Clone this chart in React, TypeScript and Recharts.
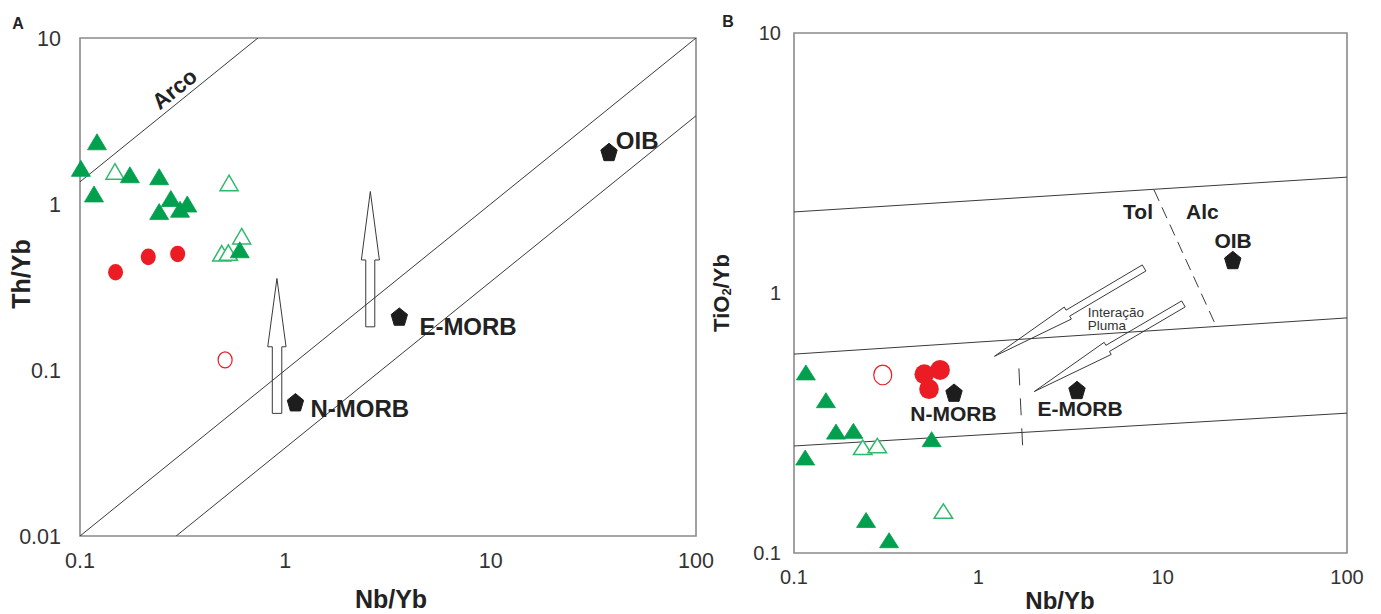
import React from 'react';
import { ScatterChart, Scatter, XAxis, YAxis, ReferenceLine, ReferenceArea } from 'recharts';

const FONT = '"Liberation Sans", Arial, Helvetica, sans-serif';

// ---------- Panel A : Th/Yb vs Nb/Yb ----------
const aXTicks = [0.1, 1, 10, 100];
const aYTicks = [0.01, 0.1, 1, 10];
const aFilledTri = [
  { x: 0.101, y: 1.64 }, { x: 0.121, y: 2.37 }, { x: 0.117, y: 1.15 }, { x: 0.175, y: 1.5 },
  { x: 0.243, y: 1.46 }, { x: 0.277, y: 1.08 }, { x: 0.243, y: 0.9 }, { x: 0.307, y: 0.93 },
  { x: 0.333, y: 1.0 }, { x: 0.6, y: 0.53 },
];
const aOpenTri = [
  { x: 0.148, y: 1.57 }, { x: 0.532, y: 1.34 }, { x: 0.613, y: 0.64 }, { x: 0.49, y: 0.505 }, { x: 0.528, y: 0.51 },
];
const aRedFilled = [{ x: 0.149, y: 0.388 }, { x: 0.215, y: 0.48 }, { x: 0.299, y: 0.5 }];
const aRedOpen = [{ x: 0.509, y: 0.115 }];
const aReference = [{ x: 1.12, y: 0.064 }, { x: 3.59, y: 0.21 }, { x: 37.7, y: 2.06 }];
const aLabels = [
  { x: 2.306, y: 0.0585, label: 'N-MORB' },
  { x: 7.76, y: 0.1826, label: 'E-MORB' },
  { x: 51.7, y: 2.4, label: 'OIB' },
];
const aArcoLabel = [{ x: 0.2886, y: 4.93, label: 'Arco' }];
const aLineArco = [{ x: 0.1, y: 1.36 }, { x: 0.735, y: 10 }];
const aLineUpper = [{ x: 0.1, y: 0.01 }, { x: 100, y: 10 }];
const aLineLower = [{ x: 0.294, y: 0.01 }, { x: 100, y: 3.4 }];
const aArrow1 = [
  { x: 0.864, y: 0.0548 }, { x: 0.864, y: 0.138 }, { x: 0.821, y: 0.138 }, { x: 0.91, y: 0.356 },
  { x: 1.008, y: 0.138 }, { x: 0.961, y: 0.138 }, { x: 0.961, y: 0.0548 }, { x: 0.864, y: 0.0548 },
];
const aArrow2 = [
  { x: 2.464, y: 0.182 }, { x: 2.464, y: 0.46 }, { x: 2.346, y: 0.46 }, { x: 2.594, y: 1.19 },
  { x: 2.871, y: 0.46 }, { x: 2.727, y: 0.46 }, { x: 2.727, y: 0.182 }, { x: 2.464, y: 0.182 },
];

// ---------- Panel B : TiO2/Yb vs Nb/Yb ----------
const bXTicks = [0.1, 1, 10, 100];
const bYTicks = [0.1, 1, 10];
const bFilledTri = [
  { x: 0.116, y: 0.495 }, { x: 0.149, y: 0.387 }, { x: 0.169, y: 0.293 }, { x: 0.21, y: 0.295 },
  { x: 0.558, y: 0.274 }, { x: 0.115, y: 0.233 }, { x: 0.246, y: 0.134 }, { x: 0.328, y: 0.112 },
];
const bOpenTri = [{ x: 0.236, y: 0.255 }, { x: 0.283, y: 0.259 }, { x: 0.646, y: 0.145 }];
const bRedFilled = [{ x: 0.509, y: 0.487 }, { x: 0.62, y: 0.506 }, { x: 0.54, y: 0.427 }];
const bRedOpen = [{ x: 0.303, y: 0.484 }];
const bReference = [{ x: 0.738, y: 0.414 }, { x: 3.43, y: 0.424 }, { x: 24.0, y: 1.34 }];
const bLabels = [
  { x: 0.7335, y: 0.3455, label: 'N-MORB' },
  { x: 3.563, y: 0.361, label: 'E-MORB' },
  { x: 24.1, y: 1.589, label: 'OIB' },
  { x: 7.355, y: 2.06, label: 'Tol' },
  { x: 16.44, y: 2.067, label: 'Alc' },
];
const bSmallLabels = [
  { x: 3.918, y: 0.845, label: 'Interação' },
  { x: 3.918, y: 0.749, label: 'Pluma' },
];
const bLineTop = [{ x: 0.1, y: 2.05 }, { x: 100, y: 2.79 }];
const bLineMid = [{ x: 0.1, y: 0.582 }, { x: 100, y: 0.802 }];
const bLineLow = [{ x: 0.1, y: 0.258 }, { x: 100, y: 0.345 }];
const bDashTolAlc = [{ x: 8.98, y: 2.49 }, { x: 19.5, y: 0.746 }];
const bDashMorb = [{ x: 1.66, y: 0.513 }, { x: 1.74, y: 0.255 }];
const bArrow1 = [
  { x: 7.75, y: 1.282 }, { x: 2.991, y: 0.859 }, { x: 2.928, y: 0.883 }, { x: 1.224, y: 0.571 },
  { x: 3.196, y: 0.794 }, { x: 3.13, y: 0.815 }, { x: 8.11, y: 1.215 }, { x: 7.75, y: 1.282 },
];
const bArrow2 = [
  { x: 12.67, y: 0.932 }, { x: 4.92, y: 0.629 }, { x: 4.815, y: 0.646 }, { x: 2.013, y: 0.418 },
  { x: 5.255, y: 0.58 }, { x: 5.144, y: 0.596 }, { x: 13.25, y: 0.884 }, { x: 12.67, y: 0.932 },
];

// ---------- styles ----------
const GREEN = '#00a04e';
const GREEN_OPEN = '#2fb96b';
const RED = '#ec1c24';
const BLACK = '#1d1d1d';
const LINE = '#3a3a3a';
const FRAME = '#8a8a8a';

const triShape = (fill: string, stroke: string, w: number, h: number, sw: number) => (p: any) => {
  const { cx, cy } = p;
  if (cx == null || cy == null) return <g />;
  return (
    <polygon
      points={`${cx},${cy - h / 2} ${cx + w / 2},${cy + h / 2} ${cx - w / 2},${cy + h / 2}`}
      fill={fill}
      stroke={stroke}
      strokeWidth={sw}
      strokeLinejoin="miter"
    />
  );
};

const ellShape = (fill: string, stroke: string, rx: number, ry: number, sw: number) => (p: any) => {
  const { cx, cy } = p;
  if (cx == null || cy == null) return <g />;
  return <ellipse cx={cx} cy={cy} rx={rx} ry={ry} fill={fill} stroke={stroke} strokeWidth={sw} />;
};

const pentShape = (rx: number, ry: number) => (p: any) => {
  const { cx, cy } = p;
  if (cx == null || cy == null) return <g />;
  const pts: string[] = [];
  for (let k = 0; k < 5; k++) {
    const a = (-90 + 72 * k) * (Math.PI / 180);
    pts.push(`${cx + rx * Math.cos(a)},${cy + 1 + ry * Math.sin(a)}`);
  }
  return <polygon points={pts.join(' ')} fill={BLACK} stroke={BLACK} strokeWidth={1} />;
};

const textShape = (size: number, weight: string, anchor: string, color: string, rot = 0) => (p: any) => {
  const { cx, cy, payload } = p;
  if (cx == null || cy == null) return <g />;
  return (
    <text
      x={cx}
      y={cy}
      fontSize={size}
      fontWeight={weight}
      fontFamily={FONT}
      fill={color}
      textAnchor={anchor}
      dominantBaseline="central"
      transform={rot ? `rotate(${rot} ${cx} ${cy})` : undefined}
    >
      {payload?.label}
    </text>
  );
};

const noShape = () => <g />;

const polyLine = (data: any[], key: string) => (
  <Scatter
    key={key}
    data={data}
    line={{ stroke: LINE, strokeWidth: 1 }}
    lineType="joint"
    shape={noShape}
    isAnimationActive={false}
  />
);

const seg = (pts: any[], key: string, dash?: string) => (
  <ReferenceLine
    key={key}
    segment={pts}
    stroke={LINE}
    strokeWidth={1}
    strokeDasharray={dash}
    ifOverflow="hidden"
  />
);

function PanelA() {
  return (
    <ScatterChart width={720} height={614} margin={{ top: 38, right: 24, bottom: 0, left: 0 }}>
      <XAxis
        type="number"
        dataKey="x"
        scale="log"
        domain={[0.1, 100]}
        ticks={aXTicks}
        interval={0}
        axisLine={false}
        tickLine={false}
        tickSize={0}
        tickMargin={17}
        height={78}
        tick={{ fontSize: 21.5, fill: '#333', fontFamily: FONT }}
      />
      <YAxis
        type="number"
        dataKey="y"
        scale="log"
        domain={[0.01, 10]}
        ticks={aYTicks}
        interval={0}
        axisLine={false}
        tickLine={false}
        tickSize={0}
        tickMargin={19}
        width={80}
        tick={{ fontSize: 21.5, fill: '#333', fontFamily: FONT }}
      />
      <ReferenceArea x1={0.1} x2={100} y1={0.01} y2={10} fill="none" stroke={FRAME} strokeWidth={1.6} ifOverflow="visible" />
      {seg(aLineArco, 'arco')}
      {seg(aLineUpper, 'up')}
      {seg(aLineLower, 'low')}
      {polyLine(aArrow1, 'ar1')}
      {polyLine(aArrow2, 'ar2')}
      <Scatter data={aRedOpen} shape={ellShape('#fff', RED, 7, 8, 1.2)} isAnimationActive={false} />
      <Scatter data={aRedFilled} shape={ellShape(RED, RED, 7.5, 8.3, 0)} isAnimationActive={false} />
      <Scatter data={aOpenTri} shape={triShape('#fff', GREEN_OPEN, 18, 15.5, 1.5)} isAnimationActive={false} />
      <Scatter data={aFilledTri} shape={triShape(GREEN, GREEN, 19, 16, 0.8)} isAnimationActive={false} />
      <Scatter data={aReference} shape={pentShape(8.6, 9.6)} isAnimationActive={false} />
      <Scatter data={aLabels} shape={textShape(24, 'bold', 'middle', '#222')} isAnimationActive={false} />
      <Scatter data={aArcoLabel} shape={textShape(22, 'bold', 'middle', '#222', -39)} isAnimationActive={false} />
    </ScatterChart>
  );
}

function PanelB() {
  return (
    <ScatterChart width={681} height={614} margin={{ top: 33, right: 34, bottom: 0, left: 0 }}>
      <XAxis
        type="number"
        dataKey="x"
        scale="log"
        domain={[0.1, 100]}
        ticks={bXTicks}
        interval={0}
        axisLine={false}
        tickLine={false}
        tickSize={0}
        tickMargin={17}
        height={61}
        tick={{ fontSize: 20, fill: '#333', fontFamily: FONT }}
      />
      <YAxis
        type="number"
        dataKey="y"
        scale="log"
        domain={[0.1, 10]}
        ticks={bYTicks}
        interval={0}
        axisLine={false}
        tickLine={false}
        tickSize={0}
        tickMargin={13}
        width={94}
        tick={{ fontSize: 20, fill: '#333', fontFamily: FONT }}
      />
      <ReferenceArea x1={0.1} x2={100} y1={0.1} y2={10} fill="none" stroke={FRAME} strokeWidth={1.6} ifOverflow="visible" />
      {seg(bLineTop, 'top')}
      {seg(bLineMid, 'mid')}
      {seg(bLineLow, 'low')}
      {seg(bDashTolAlc, 'd1', '12 7')}
      {seg(bDashMorb, 'd2', '17 13')}
      {polyLine(bArrow1, 'br1')}
      {polyLine(bArrow2, 'br2')}
      <Scatter data={bRedOpen} shape={ellShape('#fff', RED, 9, 9.8, 1.2)} isAnimationActive={false} />
      <Scatter data={bRedFilled} shape={ellShape(RED, RED, 9.8, 10, 0)} isAnimationActive={false} />
      <Scatter data={bOpenTri} shape={triShape('#fff', GREEN_OPEN, 18.5, 14.5, 1.5)} isAnimationActive={false} />
      <Scatter data={bFilledTri} shape={triShape(GREEN, GREEN, 19, 15, 0.8)} isAnimationActive={false} />
      <Scatter data={bReference} shape={pentShape(8.6, 9.6)} isAnimationActive={false} />
      <Scatter data={bLabels} shape={textShape(21, 'bold', 'middle', '#222')} isAnimationActive={false} />
      <Scatter data={bSmallLabels} shape={textShape(13.5, 'normal', 'start', '#333')} isAnimationActive={false} />
    </ScatterChart>
  );
}

export default function App() {
  return (
    <div style={{ position: 'absolute', left: 0, top: 0, width: 1381, height: 614, background: '#fff', overflow: 'hidden' }}>
      <div style={{ position: 'absolute', left: 0, top: 0 }}>
        <PanelA />
      </div>
      <div style={{ position: 'absolute', left: 700, top: 0 }}>
        <PanelB />
      </div>
      <svg
        width={1381}
        height={614}
        style={{ position: 'absolute', left: 0, top: 0, pointerEvents: 'none' }}
        fontFamily={FONT}
      >
        <text x={18} y={23} fontSize={16} fontWeight="bold" fill="#222" textAnchor="middle" dominantBaseline="central">A</text>
        <text x={728} y={21.5} fontSize={16} fontWeight="bold" fill="#222" textAnchor="middle" dominantBaseline="central">B</text>
        <text x={391} y={608} fontSize={25} fontWeight="bold" fill="#222" textAnchor="middle">Nb/Yb</text>
        <text x={1060} y={609} fontSize={24} fontWeight="bold" fill="#222" textAnchor="middle">Nb/Yb</text>
        <text
          x={21}
          y={274}
          fontSize={25}
          fontWeight="bold"
          fill="#222"
          textAnchor="middle"
          dominantBaseline="central"
          transform="rotate(-90 21 274)"
        >
          Th/Yb
        </text>
        <text
          x={721}
          y={293}
          fontSize={22}
          fontWeight="bold"
          fill="#222"
          textAnchor="middle"
          dominantBaseline="central"
          transform="rotate(-90 721 293)"
        >
          <tspan>TiO</tspan>
          <tspan fontSize={13} dy={5}>2</tspan>
          <tspan dy={-5}>/Yb</tspan>
        </text>
      </svg>
    </div>
  );
}
